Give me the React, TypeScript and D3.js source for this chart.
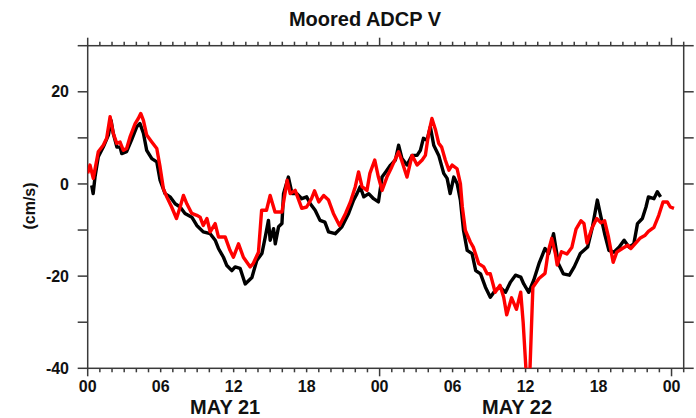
import React from "react";
import * as d3 from "d3";

const TITLE = "Moored ADCP V";
const Y_LABEL = "(cm/s)";
const DAY_LABELS = ["MAY 21", "MAY 22"];
const X_TICK_HOURS = [0, 6, 12, 18, 24, 30, 36, 42, 48];
const X_TICK_LABELS = ["00", "06", "12", "18", "00", "06", "12", "18", "00"];
const Y_TICK_LABELS = [-40, -20, 0, 20];

// hours since 00 May 21
const blackHours = [
  0.33, 0.45, 0.6, 0.87, 1.28, 1.7, 1.92, 2.1, 2.4, 2.66, 2.8, 3.2, 3.6, 4.03, 4.3, 4.58, 4.85, 5.27, 5.68, 5.95,
  6.36, 6.77, 7.19, 7.6, 8.0, 8.56, 8.97, 9.5, 10.07, 10.48, 10.75, 11.16, 11.44, 11.85, 12.12, 12.53, 12.95, 13.5,
  13.9, 14.32, 14.6, 14.86, 15.0, 15.28, 15.42, 15.69, 15.97, 16.1, 16.5, 16.8, 17.2, 17.6, 18.0, 18.3, 18.7, 19.1,
  19.5, 19.8, 20.35, 20.9, 21.45, 21.86, 22.14, 22.4, 22.7, 23.1, 23.5, 23.9, 24.2, 24.5, 24.9, 25.3, 25.56, 25.84,
  26.25, 26.67, 27.08, 27.35, 27.6, 27.9, 28.17, 28.45, 28.86, 29.27, 29.55, 29.8, 30.1, 30.37, 30.64, 30.9, 31.2,
  31.6, 31.9, 32.3, 32.7, 33.1, 33.5, 33.9, 34.35, 34.76, 35.17, 35.6, 35.85, 36.26, 36.67, 37.1, 37.6, 37.9, 38.3,
  38.7, 39.1, 39.6, 40.0, 40.5, 41.1, 41.5, 41.9, 42.2, 42.5, 42.85, 43.26, 43.7, 44.1, 44.5, 44.9, 45.2, 45.6, 45.9,
  46.1, 46.55, 46.83, 47.1,
];
const blackV = [
  -0.3, -2.1, 1.5, 5.9, 8.0, 10.6, 13.8, 11.0, 8.0, 8.0, 6.6, 7.0, 9.5, 12.4, 13.1, 11.0, 7.3, 5.5, 4.8, 0.8,
  -2.1, -2.8, -4.3, -5.0, -6.4, -7.2, -9.0, -10.4, -10.8, -12.2, -14.0, -15.9, -17.7, -18.8, -18.0, -18.3, -21.7, -20.3,
  -16.6, -15.1, -11.5, -7.9, -12.2, -9.7, -13.0, -9.3, -8.6, -2.1, 1.5, -2.1, -2.1, -3.2, -2.8, -4.3, -5.7, -7.9,
  -8.3, -10.4, -10.8, -9.3, -6.4, -3.5, -2.1, -0.6, -2.8, -2.1, -3.2, -3.9, 1.5, 2.6, 4.1, 5.2, 8.4, 5.5,
  4.1, 6.2, 6.2, 7.3, 9.9, 9.5, 12.4, 8.4, 6.2, 2.3, 1.2, -2.1, 1.5, 0.1, -3.5, -10.1, -14.4,
  -15.1, -18.8, -19.5, -22.4, -24.6, -23.1, -22.4, -23.5, -21.3, -19.8, -20.2, -21.7, -23.5, -20.9, -17.3, -14.0, -15.1, -10.8,
  -17.3, -19.5, -19.8, -18.0, -15.1, -13.7, -9.3, -3.5, -7.2, -10.8, -14.4, -14.8, -13.7, -12.2, -13.7, -13.0, -8.6, -7.5, -5.0,
  -2.8, -3.2, -1.7, -2.8,
];

const redHours = [
  0.0, 0.19, 0.46, 0.87, 1.28, 1.56, 1.84, 2.1, 2.39, 2.66, 2.93, 3.2, 3.48, 3.9, 4.16, 4.36, 4.58, 4.85, 5.27, 5.68,
  5.95, 6.22, 6.5, 6.9, 7.3, 7.6, 7.87, 8.15, 8.56, 8.97, 9.24, 9.5, 9.8, 10.07, 10.48, 10.75, 11.3, 11.7, 11.98, 12.4,
  12.8, 13.36, 13.6, 14.04, 14.3, 14.7, 15.0, 15.4, 15.97, 16.4, 16.65, 17.06, 17.6, 18.0, 18.4, 18.65, 19.0, 19.4,
  19.8, 20.2, 20.7, 21.2, 21.6, 22.0, 22.27, 22.55, 22.96, 23.2, 23.6, 23.9, 24.2, 24.6, 25.0, 25.56, 25.8, 26.25,
  26.67, 27.08, 27.5, 27.76, 28.03, 28.3, 28.6, 28.86, 29.1, 29.4, 29.7, 29.96, 30.37, 30.64, 30.8, 31.05, 31.46,
  31.7, 32.15, 32.56, 32.84, 33.1, 33.5, 33.9, 34.2, 34.45, 34.85, 35.25, 35.6, 35.8, 36.05, 36.35, 36.6, 37.1, 37.6,
  37.86, 38.15, 38.45, 38.6, 38.95, 39.4, 39.8, 40.15, 40.55, 40.8, 41.05, 41.45, 41.85, 42.2, 42.5, 42.8, 43.2,
  43.5, 43.95, 44.4, 44.65, 45.0, 45.4, 45.8, 46.1, 46.55, 46.95, 47.3, 47.65, 47.9, 48.2,
];
const redV = [
  2.3, 4.1, 1.2, 7.0, 8.4, 9.9, 14.6, 11.0, 8.8, 9.1, 7.3, 7.7, 10.2, 13.1, 14.2, 15.3, 13.8, 10.6, 9.1, 7.7,
  3.7, -1.0, -2.8, -5.0, -7.5, -5.0, -2.5, -4.3, -6.4, -6.8, -7.2, -9.0, -7.5, -10.4, -8.6, -11.5, -11.5, -14.4, -15.9, -13.0,
  -15.9, -18.0, -17.3, -14.8, -5.7, -5.7, -2.5, -6.1, -6.1, 0.8, -2.1, -1.4, -5.3, -5.0, -3.2, -1.5, -3.9, -2.5,
  -3.5, -6.4, -9.0, -6.4, -3.9, -0.6, 2.6, -0.6, -1.4, 2.3, 5.2, 1.5, -1.4, 1.5, 3.7, 7.0, 5.2, 1.5,
  6.2, 4.1, 5.2, 6.2, 11.0, 14.2, 11.7, 8.8, 8.0, 5.2, 3.0, 4.1, 3.3, 0.1, -5.0, -10.1, -12.6,
  -13.7, -17.3, -18.0, -19.5, -19.5, -23.5, -22.0, -24.6, -28.4, -24.7, -27.2, -23.5, -30.0, -41.0, -41.0, -22.4, -20.5, -19.4,
  -14.7, -11.8, -15.1, -17.6, -14.7, -15.2, -13.8, -9.8, -8.0, -8.6, -12.8, -9.6, -7.5, -8.4, -8.0, -11.3, -17.0,
  -14.8, -14.0, -13.3, -14.0, -13.0, -11.8, -11.2, -10.3, -9.4, -6.8, -3.9, -3.9, -5.0, -5.3,
];

const W = 696;
const H = 418;
const PL = 87.7;
const PR = 683.7;
const PT = 45.7;
const PB = 368.3;
const FONT = "'Liberation Sans', Arial, Helvetica, sans-serif";
const AXIS = "#3a3a3a";

export default function App() {
  const x = d3.scaleLinear().domain([0, 49]).range([PL, PR]);
  const y = d3.scaleLinear().domain([-40, 30]).range([PB, PT]);

  const line = d3
    .line<[number, number]>()
    .x((d) => x(d[0]))
    .y((d) => y(d[1]))
    .curve(d3.curveLinear);

  const black: [number, number][] = blackHours.map((h, i) => [h, blackV[i]]);
  const red: [number, number][] = redHours.map((h, i) => [h, redV[i]]);

  const hourTicks = d3.range(0, 50);
  const yTicks = d3.range(-40, 31, 10);

  return (
    <svg
      width={W}
      height={H}
      style={{ position: "absolute", left: 0, top: 0, background: "#fff" }}
      fontFamily={FONT}
    >
      <defs>
        <clipPath id="plot">
          <rect x={PL} y={PT} width={PR - PL} height={PB - PT} />
        </clipPath>
      </defs>
      <rect x={0} y={0} width={W} height={H} fill="#fff" />

      <text x={365} y={26} textAnchor="middle" fontSize={20} fontWeight="bold" fill="#111">
        {TITLE}
      </text>

      {/* frame */}
      <rect x={PL} y={PT} width={PR - PL} height={PB - PT} fill="none" stroke={AXIS} strokeWidth={1.5} />

      {/* x ticks top and bottom */}
      {hourTicks.map((h) => {
        const major = h % 24 === 0;
        const len = major ? 8 : 4;
        const xx = x(h);
        return (
          <g key={"xt" + h}>
            <line x1={xx} x2={xx} y1={PB} y2={PB + len} stroke={AXIS} strokeWidth={1.5} />
            <line x1={xx} x2={xx} y1={PT} y2={PT - len} stroke={AXIS} strokeWidth={1.5} />
          </g>
        );
      })}

      {/* y ticks left and right */}
      {yTicks.map((v) => (
        <g key={"yt" + v}>
          <line x1={PL - 10} x2={PL} y1={y(v)} y2={y(v)} stroke={AXIS} strokeWidth={1.5} />
          <line x1={PR} x2={PR + 10} y1={y(v)} y2={y(v)} stroke={AXIS} strokeWidth={1.5} />
        </g>
      ))}

      {Y_TICK_LABELS.map((v) => (
        <text
          key={"yl" + v}
          x={69}
          y={y(v) + 5.7}
          textAnchor="end"
          fontSize={16}
          fontWeight="bold"
          fill="#111"
        >
          {v}
        </text>
      ))}

      {X_TICK_HOURS.map((h, i) => (
        <text key={"xl" + h} x={x(h)} y={392} textAnchor="middle" fontSize={16} fontWeight="bold" fill="#111">
          {X_TICK_LABELS[i]}
        </text>
      ))}

      {DAY_LABELS.map((d, i) => (
        <text key={d} x={x(i * 24 + 11.3)} y={414} textAnchor="middle" fontSize={20} fontWeight="bold" fill="#111">
          {d}
        </text>
      ))}

      <text
        transform={`translate(35, 206) rotate(-90)`}
        textAnchor="middle"
        fontSize={16}
        fontWeight="bold"
        fill="#111"
      >
        {Y_LABEL}
      </text>

      <g clipPath="url(#plot)">
        <path d={line(black) || ""} fill="none" stroke="#000" strokeWidth={3.4} strokeLinejoin="round" />
        <path d={line(red) || ""} fill="none" stroke="#ff0000" strokeWidth={3.4} strokeLinejoin="round" />
      </g>
    </svg>
  );
}
